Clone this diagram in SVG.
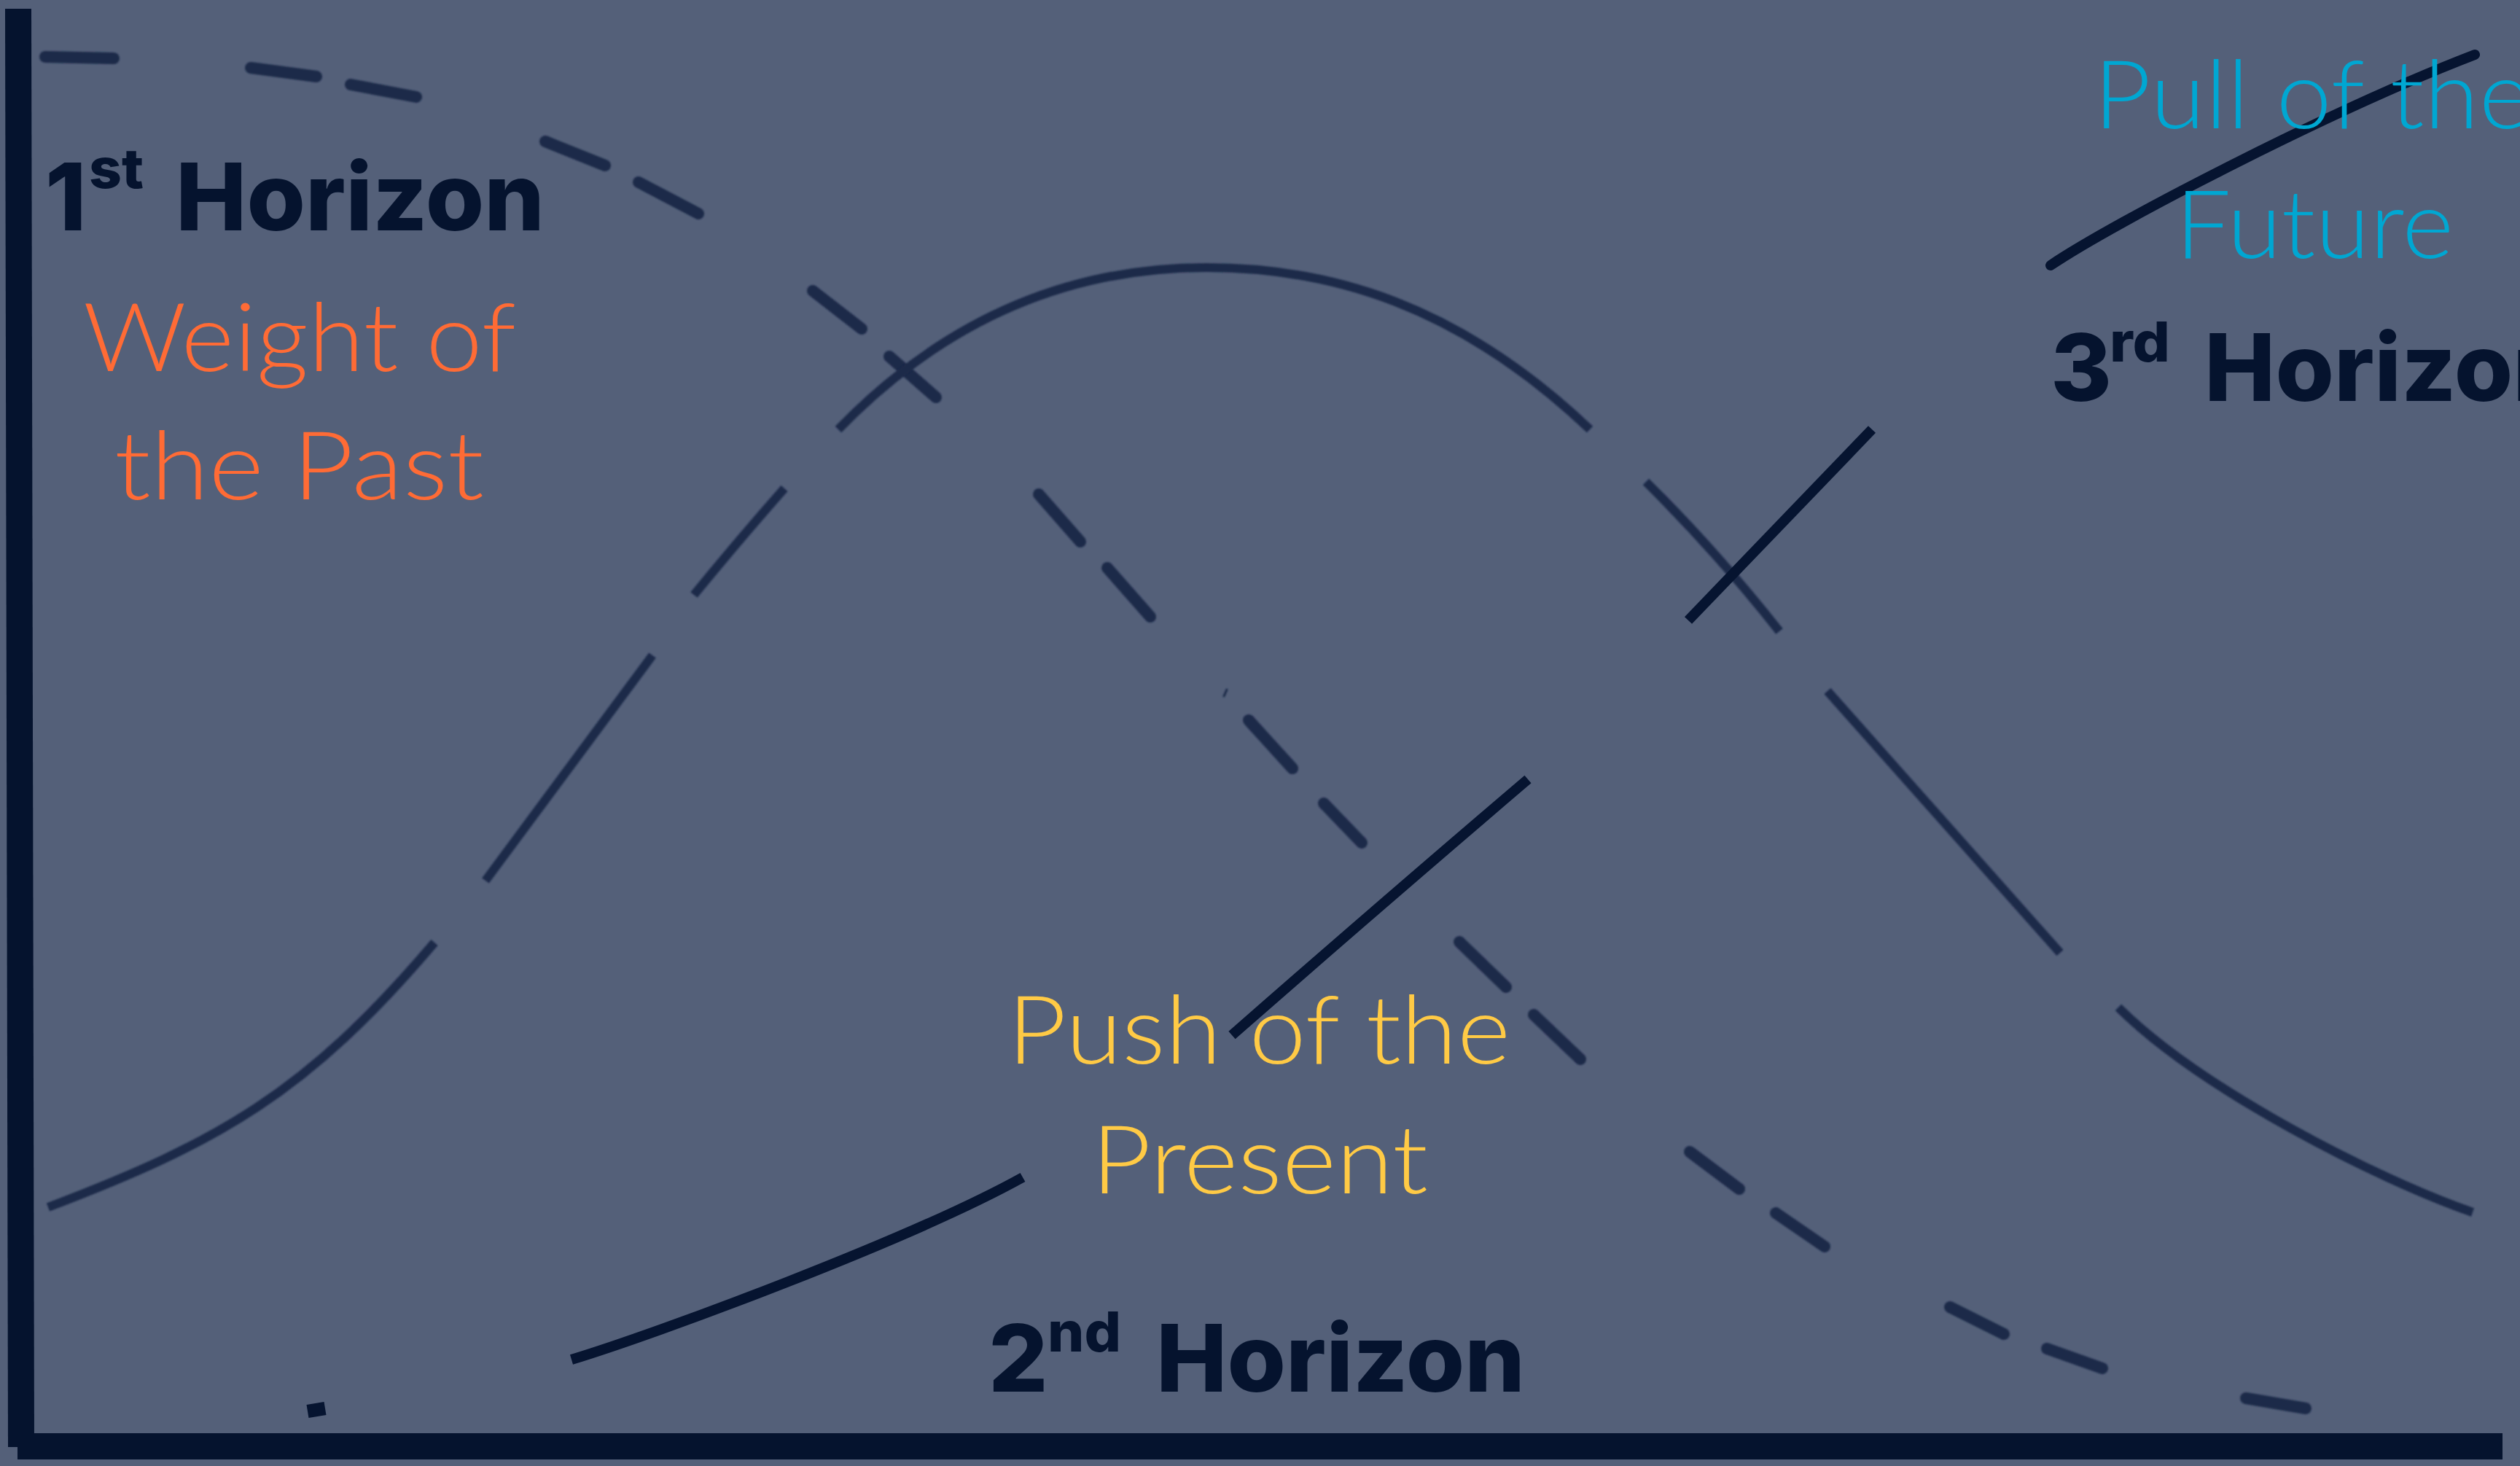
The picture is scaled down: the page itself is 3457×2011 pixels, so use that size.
<svg xmlns="http://www.w3.org/2000/svg" width="3457" height="2011" viewBox="0 0 3457 2011">
<defs>
<style>
.bg{fill:#546079}
.axis{fill:#05132e}
.dash{fill:none;stroke:#1c2948;stroke-width:16;stroke-linecap:round}
.bell{fill:none;stroke:#1c2948;stroke-width:12;stroke-linecap:butt}
.h3{fill:none;stroke:#061430;stroke-width:14;stroke-linecap:butt}
.bold{font-family:Inter,Lato,"Liberation Sans",sans-serif;font-weight:800;fill:#05132e}
.big{font-size:128px}
.sup{font-size:76px}
.light{font-family:Lato,"Open Sans","Liberation Sans",sans-serif;font-weight:300;font-size:130px}
.orange{fill:#ff6b35}
.cyan{fill:#00a7d2}
.yellow{fill:#ffca45}
</style>
<filter id="soft" x="-5%" y="-5%" width="110%" height="110%"><feGaussianBlur stdDeviation="1.2"/></filter>
</defs>
<rect class="bg" x="0" y="0" width="3457" height="2011"/>
<g id="axes">
<polygon class="axis" points="7,12 43,12 47,1985 11,1985"/>
<rect class="axis" x="24" y="1966" width="3409" height="36"/>
</g>
<g id="connectors">
<g id="horizon1-curve" filter="url(#soft)">
<path class="dash" d="M62,78 L156,80"/>
<path class="dash" d="M344,93 L434,105"/>
<path class="dash" d="M481,116 L571,133"/>
<path class="dash" d="M748,194 L830,227"/>
<path class="dash" d="M876,250 L958,293"/>
<path class="dash" d="M1115,399 L1182,451"/>
<path class="dash" d="M1220,489 L1284,545"/>
<path class="dash" d="M1425,678 L1482,743"/>
<path class="dash" d="M1519,779 L1578,846"/>
<path class="dash" style="stroke-width:3" d="M1679,955 L1683,946"/>
<path class="dash" d="M1713,988 L1773,1054"/>
<path class="dash" d="M1816,1102 L1868,1156"/>
<path class="dash" d="M2002,1292 L2066,1354"/>
<path class="dash" d="M2104,1392 L2168,1453"/>
<path class="dash" d="M2318,1580 L2386,1631"/>
<path class="dash" d="M2436,1664 L2503,1710"/>
<path class="dash" d="M2675,1793 L2749,1830"/>
<path class="dash" d="M2808,1850 L2884,1877"/>
<path class="dash" d="M3081,1918 L3163,1932"/>
</g>
<g id="horizon2-curve" filter="url(#soft)">
<path class="bell" d="M66,1656 C300,1567 420,1500 596,1293"/>
<path class="bell" d="M666,1208 L895,899"/>
<path class="bell" d="M952,816 Q1016,738 1076,670"/>
<path class="bell" d="M1150,589 C1285,450 1450,367 1655,367 C1825,367 2001,418 2181,589"/>
<path class="bell" d="M2258,661 Q2355,757 2441,866"/>
<path class="bell" d="M2507,948 L2826,1307"/>
<path class="bell" d="M2906,1382 C3020,1495 3262,1618 3392,1663"/>
</g>
<g id="horizon3-curve">
<path class="h3" style="stroke-width:18" d="M422,1936 L446,1932"/>
<path class="h3" d="M784,1865 C900,1830 1250,1700 1403,1615"/>
<path class="h3" d="M1690,1420 Q1900,1236 2096,1069"/>
<path class="h3" d="M2316,851 L2568,589"/>
<path class="h3" style="stroke-linecap:round" d="M2813,364 C2900,305 3200,150 3395,75"/>
</g>
</g>
<g id="horizon1-label">
<text class="bold big" x="62" y="316">1</text>
<text class="bold sup" x="122" y="258" textLength="75" lengthAdjust="spacingAndGlyphs">st</text>
<text class="bold big" x="241" y="316" textLength="506" lengthAdjust="spacingAndGlyphs">Horizon</text>
<text class="light orange" x="114" y="509" textLength="594" lengthAdjust="spacingAndGlyphs">Weight of</text>
<text class="light orange" x="157" y="685" textLength="507" lengthAdjust="spacingAndGlyphs">the Past</text>
</g>
<g id="horizon2-label">
<text class="light yellow" x="1382" y="1459" textLength="690" lengthAdjust="spacingAndGlyphs">Push of the</text>
<text class="light yellow" x="1497" y="1637" textLength="462" lengthAdjust="spacingAndGlyphs">Present</text>
<text class="bold big" x="1356" y="1909">2</text>
<text class="bold sup" x="1437" y="1854" textLength="101" lengthAdjust="spacingAndGlyphs">nd</text>
<text class="bold big" x="1586" y="1909" textLength="506" lengthAdjust="spacingAndGlyphs">Horizon</text>
</g>
<g id="horizon3-label">
<text class="light cyan" x="2872" y="176" textLength="600" lengthAdjust="spacingAndGlyphs">Pull of the</text>
<text class="light cyan" x="2984" y="354" textLength="382" lengthAdjust="spacingAndGlyphs">Future</text>
<text class="bold big" x="2813" y="550">3</text>
<text class="bold sup" x="2894" y="496" textLength="83" lengthAdjust="spacingAndGlyphs">rd</text>
<text class="bold big" x="3024" y="550" textLength="506" lengthAdjust="spacingAndGlyphs">Horizon</text>
</g>
</svg>
